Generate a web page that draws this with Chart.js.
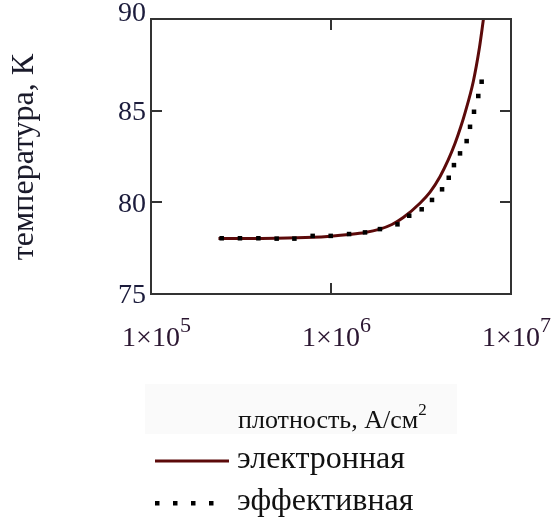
<!DOCTYPE html>
<html>
<head>
<meta charset="utf-8">
<script src="https://cdn.jsdelivr.net/npm/chart.js@4.4.0/dist/chart.umd.min.js"></script>
<style>
  html, body { margin: 0; padding: 0; background: #fff; }
  #c { display: block; }
</style>
</head>
<body>
<canvas id="c" width="553" height="517"></canvas>
<script>
// плотность тока, А/см^2 и температура, К
const elecJ = [2.37e5, 3.12e5, 4.99e5, 7.91e5, 9.96e5, 1.26e6, 1.545e6, 1.87e6, 2.18e6, 2.52e6,
               3.12e6, 3.55e6, 4.03e6, 4.48e6, 4.89e6, 5.26e6, 5.55e6, 6.17e6, 6.67e6, 7.02e6, 7.17e6];
const elecT = [78.03, 78.03, 78.04, 78.09, 78.15, 78.24, 78.35, 78.54, 78.79, 79.17,
               79.95, 80.56, 81.40, 82.31, 83.22, 84.12, 84.87, 86.58, 88.40, 89.95, 90.6];

const effJ = [2.47e5, 3.12e5, 3.95e5, 4.99e5, 6.26e5, 7.91e5, 9.96e5, 1.26e6, 1.545e6, 1.87e6,
              2.34e6, 2.72e6, 3.19e6, 3.64e6, 4.14e6, 4.51e6, 4.82e6, 5.21e6, 5.67e6, 5.92e6,
              6.23e6, 6.58e6, 6.87e6];
const effT = [78.04, 78.04, 78.04, 78.02, 78.02, 78.17, 78.17, 78.27, 78.36, 78.54,
              78.80, 79.27, 79.62, 80.13, 80.71, 81.34, 82.03, 82.67, 83.34, 84.12,
              84.94, 85.80, 86.58];

const xTicks = [1e5, 1e6, 1e7];
const xTickExp = ['5', '6', '7'];
const yTicks = [75, 80, 85, 90];
const seriesNames = ['электронная', 'эффективная'];

const lineColor = '#5c0a0a';
const serif = '"Liberation Serif", "Times New Roman", serif';

const pts = (xs, ys) => xs.map((x, i) => ({ x: x, y: ys[i] }));

// рамка, внутренние засечки, подписи и легенда
const decor = {
    id: 'decor',
    afterDraw(chart) {
        const ctx = chart.ctx;
        const a = chart.chartArea;
        const sx = chart.scales.x, sy = chart.scales.y;
        ctx.save();

        // рамка
        ctx.strokeStyle = '#333';
        ctx.lineWidth = 2;
        ctx.strokeRect(a.left, a.top, a.right - a.left, a.bottom - a.top);

        // засечки внутрь
        ctx.beginPath();
        yTicks.slice(1, -1).forEach(v => {
            const y = Math.round(sy.getPixelForValue(v));
            ctx.moveTo(a.left, y); ctx.lineTo(a.left + 11, y);
            ctx.moveTo(a.right, y); ctx.lineTo(a.right - 11, y);
        });
        xTicks.slice(1, -1).forEach(v => {
            const x = Math.round(sx.getPixelForValue(v));
            ctx.moveTo(x, a.top); ctx.lineTo(x, a.top + 11);
            ctx.moveTo(x, a.bottom); ctx.lineTo(x, a.bottom - 11);
        });
        ctx.stroke();

        // подписи оси Y
        ctx.fillStyle = '#1c1c3c';
        ctx.font = '28px ' + serif;
        ctx.textAlign = 'right';
        ctx.textBaseline = 'middle';
        yTicks.forEach(v => {
            let y = sy.getPixelForValue(v) + 2;
            if (v === sy.max) y -= 7;
            ctx.fillText(String(v), a.left - 5, y);
        });

        // подписи оси X: 1×10^n
        ctx.fillStyle = '#2a1530';
        ctx.textBaseline = 'alphabetic';
        ctx.textAlign = 'left';
        xTicks.forEach((v, i) => {
            const x = sx.getPixelForValue(v);
            ctx.font = '28px ' + serif;
            const base = '1×10';
            const w = ctx.measureText(base).width;
            ctx.fillText(base, x - w / 2, 346);
            ctx.font = '22px ' + serif;
            ctx.fillText(xTickExp[i], x + w / 2, 332);
        });

        // подпись оси Y
        ctx.fillStyle = '#1a1a2a';
        ctx.font = '32px ' + serif;
        ctx.save();
        ctx.translate(33, 157);
        ctx.rotate(-Math.PI / 2);
        ctx.textAlign = 'center';
        ctx.fillText('температура, К', 0, 0);
        ctx.restore();

        // подпись оси X
        ctx.fillStyle = '#fafafa';
        ctx.fillRect(145, 384, 312, 50);
        ctx.fillStyle = '#111';
        ctx.font = '26px ' + serif;
        ctx.textAlign = 'left';
        const title = 'плотность, А/см';
        ctx.fillText(title, 238, 428);
        const tw = ctx.measureText(title).width;
        ctx.font = '17px ' + serif;
        ctx.fillText('2', 238 + tw, 415);

        // легенда
        ctx.strokeStyle = lineColor;
        ctx.lineWidth = 3;
        ctx.beginPath();
        ctx.moveTo(155, 461); ctx.lineTo(229, 461);
        ctx.stroke();
        ctx.fillStyle = '#000';
        [157, 175, 193, 211].forEach(x => ctx.fillRect(x - 2, 501, 4.5, 4.5));
        ctx.fillStyle = '#111';
        ctx.font = '32px ' + serif;
        ctx.textBaseline = 'middle';
        ctx.fillText(seriesNames[0], 237, 460);
        ctx.fillText(seriesNames[1], 237, 502);

        ctx.restore();
    }
};

new Chart(document.getElementById('c'), {
    type: 'line',
    data: {
        datasets: [{
            label: seriesNames[1],
            data: pts(effJ, effT),
            showLine: false,
            pointStyle: 'rect',
            pointRadius: 3.2,
            pointBorderWidth: 0,
            pointBackgroundColor: '#000',
            pointHoverRadius: 3.2
        }, {
            label: seriesNames[0],
            data: pts(elecJ, elecT),
            borderColor: lineColor,
            borderWidth: 3,
            pointRadius: 0,
            cubicInterpolationMode: 'monotone',
            fill: false
        }]
    },
    options: {
        responsive: false,
        animation: false,
        devicePixelRatio: 1,
        layout: { padding: { left: 151, right: 42, top: 19, bottom: 223 } },
        plugins: { legend: { display: false }, tooltip: { enabled: false } },
        scales: {
            x: { type: 'logarithmic', min: 1e5, max: 1e7, display: false },
            y: { type: 'linear', min: 75, max: 90, display: false }
        }
    },
    plugins: [decor]
});
</script>
</body>
</html>
